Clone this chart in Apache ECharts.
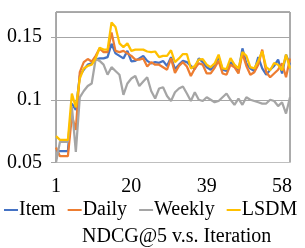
<!DOCTYPE html>
<html>
<head>
<meta charset="utf-8">
<script src="https://cdn.jsdelivr.net/npm/echarts@6/dist/echarts.min.js"></script>
<style>
html,body{margin:0;padding:0;background:#fff;}
#c{width:305px;height:248px;}
</style>
</head>
<body>
<div id="c"></div>
<script>
const iterations = Array.from({length: 60}, (_, i) => String(i + 1));
const seriesNames = ['Item', 'Daily', 'Weekly', 'LSDM'];
const item = [0.060,0.059,0.059,0.059,0.097,0.092,0.119,0.124,0.128,0.129,
0.132,0.133,0.133,0.134,0.1447,0.137,0.135,0.133,0.139,0.1306,
0.131,0.133,0.135,0.131,0.129,0.130,0.1295,0.131,0.127,0.134,
0.1245,0.128,0.131,0.130,0.127,0.1245,0.133,0.130,0.126,0.124,
0.128,0.134,0.124,0.123,0.130,0.127,0.122,0.141,0.129,0.125,
0.123,0.134,0.125,0.120,0.124,0.127,0.132,0.121,0.136,0.128];
const daily = [0.062,0.055,0.055,0.055,0.087,0.076,0.122,0.130,0.1325,0.1305,
0.135,0.141,0.138,0.138,0.1537,0.139,0.138,0.139,0.137,0.135,
0.132,0.132,0.133,0.1266,0.130,0.128,0.128,0.126,0.124,0.133,
0.1215,0.127,0.130,0.1265,0.119,0.125,0.129,0.128,0.121,0.121,
0.1255,0.131,0.121,0.120,0.128,0.126,0.121,0.137,0.127,0.120,
0.122,0.128,0.140,0.122,0.118,0.121,0.124,0.129,0.118,0.133];
const weekly = [0.050,0.0665,0.0665,0.0665,0.095,0.0585,0.102,0.107,0.111,0.113,
0.1325,0.131,0.128,0.120,0.126,0.123,0.120,0.104,0.113,0.117,
0.119,0.111,0.1146,0.118,0.107,0.101,0.109,0.110,0.103,0.099,
0.106,0.109,0.1106,0.105,0.099,0.106,0.100,0.099,0.102,0.100,
0.098,0.099,0.102,0.105,0.100,0.096,0.101,0.096,0.102,0.100,
0.099,0.098,0.097,0.097,0.100,0.099,0.095,0.098,0.089,0.102];
const lsdm = [0.071,0.068,0.068,0.068,0.105,0.094,0.117,0.125,0.127,0.128,
0.133,0.1415,0.140,0.140,0.1617,0.158,0.145,0.142,0.145,0.139,
0.140,0.140,0.140,0.1385,0.138,0.1385,0.134,0.135,0.135,0.1395,
0.130,0.133,0.1365,0.1365,0.125,0.127,0.132,0.1325,0.128,0.126,
0.129,0.136,0.125,0.1245,0.1333,0.128,0.125,0.138,0.135,0.126,
0.125,0.131,0.1386,0.126,0.1235,0.1293,0.128,0.1235,0.136,0.125];
const yTicks = {min: 0.05, max: 0.17, interval: 0.05};
const chartTitle = 'NDCG@5 v.s. Iteration';

const colors = ['#4472C4', '#ED7D31', '#A5A5A5', '#FFC000'];
const values = [item, daily, weekly, lsdm];
const font = 'Liberation Serif';

const chart = echarts.init(document.getElementById('c'), null, {renderer: 'canvas'});
chart.setOption({
  animation: false,
  color: colors,
  title: {
    text: chartTitle,
    left: 82, top: 227, padding: 0,
    textStyle: {fontFamily: font, fontSize: 20, fontWeight: 'normal', color: '#000'}
  },
  legend: {
    data: seriesNames,
    left: 4, top: 200, padding: 0,
    icon: 'rect', itemWidth: 14, itemHeight: 2, itemGap: 12,
    textStyle: {fontFamily: font, fontSize: 20, color: '#000', padding: [0,0,0,-4]}
  },
  grid: {
    left: 56, right: 15, top: 12, bottom: 85.5,
    show: true, borderColor: '#595959', borderWidth: 1, backgroundColor: 'transparent'
  },
  xAxis: {
    type: 'category', data: iterations, boundaryGap: false,
    axisLine: {lineStyle: {color: '#bfbfbf', width: 1}},
    axisTick: {show: false},
    axisLabel: {interval: 18, margin: 14, fontFamily: font, fontSize: 20, color: '#000'},
    splitLine: {show: false}
  },
  yAxis: {
    type: 'value', min: yTicks.min, max: yTicks.max, interval: yTicks.interval,
    axisLine: {show: true, lineStyle: {color: '#a6a6a6'}},
    axisTick: {show: true, length: 5, lineStyle: {color: '#a6a6a6'}},
    axisLabel: {margin: 14, fontFamily: font, fontSize: 20, color: '#000', showMaxLabel: false,
      formatter: v => String(+v.toFixed(2))},
    splitLine: {lineStyle: {color: '#a6a6a6', width: 1}}
  },
  series: seriesNames.map((n, k) => ({
    name: n, type: 'line', data: values[k], showSymbol: false, symbol: 'none',
    lineStyle: {width: 2.25, color: colors[k]}, itemStyle: {color: colors[k]}
  }))
});
</script>
</body>
</html>
